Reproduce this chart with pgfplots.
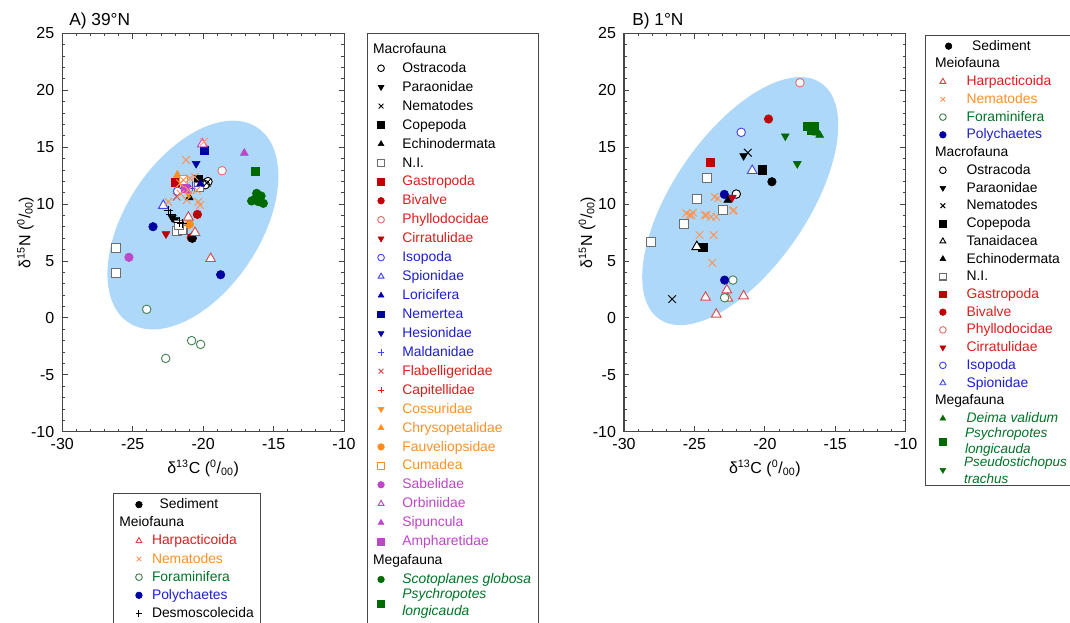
\documentclass[border=0pt]{standalone}
\usepackage{pgfplots}
\pgfplotsset{compat=1.18}
\usepackage{fontspec}
\setmainfont{Liberation Sans}
\definecolor{ellA}{RGB}{173,216,250}
\definecolor{axgray}{RGB}{70,70,70}
\definecolor{mred}{RGB}{192,0,0}
\definecolor{tred}{RGB}{220,30,30}
\definecolor{hred}{RGB}{215,75,75}
\definecolor{pred}{RGB}{230,110,110}
\definecolor{morange}{RGB}{255,140,30}
\definecolor{torange}{RGB}{255,145,40}
\definecolor{xorange}{RGB}{250,150,90}
\definecolor{mgreen}{RGB}{0,105,0}
\definecolor{fgreen}{RGB}{70,130,85}
\definecolor{tgreen}{RGB}{0,115,40}
\definecolor{navy}{RGB}{0,0,160}
\definecolor{tblue}{RGB}{30,30,210}
\definecolor{lblue}{RGB}{70,70,230}
\definecolor{magen}{RGB}{190,70,200}
\definecolor{nigray}{RGB}{110,110,110}
\tikzset{twoline/.style={text height={}, text depth={}, align=left, text=tgreen}}
\pgfplotsset{
  fc/.style={only marks, mark=*, mark size=3.2pt, color=#1, mark options={solid}},
  oc/.style={only marks, mark=*, mark size=3.2pt, color=#1, mark options={solid, fill=white, line width=0.7pt}},
  fs/.style={only marks, mark=square*, mark size=3.1pt, color=#1, mark options={solid}},
  os/.style={only marks, mark=square*, mark size=3.3pt, color=#1, mark options={solid, fill=white, line width=0.8pt}},
  ft/.style={only marks, mark=triangle*, mark size=3.4pt, color=#1, mark options={solid}},
  ot/.style={only marks, mark=triangle*, mark size=4.2pt, color=#1, mark options={solid, fill=white, line width=0.7pt}},
  fd/.style={only marks, mark=triangle*, mark size=3.4pt, color=#1, mark options={solid, rotate=180}},
  xm/.style={only marks, mark=x, mark size=4pt, color=#1, mark options={solid, line width=0.7pt}},
  pm/.style={only marks, mark=+, mark size=3.6pt, color=#1, mark options={solid, line width=0.7pt}},
  panel/.style={
    width=211.3pt, height=298.8pt, scale only axis,
    xmin=-30, xmax=-10, ymin=-10, ymax=25,
    xtick={-30,-25,...,-10}, ytick={-10,-5,...,25},
    minor tick num=4,
    tick align=inside,
    major tick length=4pt, minor tick length=2pt,
    axis line style={axgray, line width=0.8pt},
    tick style={axgray, line width=0.6pt},
    tick label style={font=\fontsize{12}{14}\selectfont},
    /pgf/number format/assume math mode=true,
    xticklabel style={yshift=-1.5pt},
    yticklabel style={xshift=-2.5pt},
    xlabel={δ\textsuperscript{13}C (\textsuperscript{0}/\textsubscript{00})},
    ylabel={δ\textsuperscript{15}N (\textsuperscript{0}/\textsubscript{00})},
    label style={font=\fontsize{12}{14}\selectfont},
    xlabel style={at={([yshift=-31pt]axis description cs:0.5,0)}, anchor=base},
    ylabel style={at={([xshift=-24pt]axis description cs:0,0.5)}, anchor=base},
    legend cell align=left,
    legend image post style={mark size=2.5pt},
  },
}
\begin{document}
\begin{tikzpicture}
\useasboundingbox (0pt,0pt) rectangle (802.5pt,-467.25pt);
\node[anchor=base west, inner sep=0pt, font=\fontsize{13}{15}\selectfont] at (51.75pt,-19.5pt) {A) 39°N};
\node[anchor=base west, inner sep=0pt, font=\fontsize{13}{15}\selectfont] at (474pt,-19.5pt) {B) 1°N};

% ---------------- Panel A: macro + mega ----------------
\begin{axis}[panel, at={(46.73pt,-24.98pt)}, anchor=north west,
  legend style={at={(1.0806,1)}, anchor=north west, draw=axgray, fill=white,
    inner xsep=2pt, inner ysep=4.7pt, row sep=0pt, column sep=13.5pt,
    nodes={inner sep=0pt, text height=10.2pt, text depth=4pt, font=\fontsize{10.4}{12.75}\selectfont}}]
\fill[ellA, rotate around={56.6:(axis cs:-20.73,8.155)}] (axis cs:-20.73,8.155) ellipse [x radius=87.6pt, y radius=50.6pt];
\addlegendimage{empty legend}\addlegendentry{\hspace*{-22pt}Macrofauna}
\addplot[oc=black] coordinates {(-19.66,11.97) (-19.85,11.7)}; \addlegendentry{Ostracoda}
\addplot[fd=black] coordinates {(-22.2,8.8) (-22.0,8.6)}; \addlegendentry{Paraonidae}
\addplot[xm=black] coordinates {(-19.75,11.85)}; \addlegendentry{Nematodes}
\addplot[fs=black] coordinates {(-20.34,12.2)}; \addlegendentry{Copepoda}
\addplot[ft=black] coordinates {(-20.98,10.56) (-20.8,7.15)}; \addlegendentry{Echinodermata}
\addplot[os=nigray] coordinates {(-26.21,6.11) (-26.21,3.97) (-21.88,7.66) (-21.46,7.72) (-20.3,11.5) (-21.7,8.15)}; \addlegendentry{N.I.}
\addplot[fs=mred] coordinates {(-22.0,11.91)}; \addlegendentry[text=tred]{Gastropoda}
\addplot[fc=mred] coordinates {(-20.41,9.09) (-20.85,7.05)}; \addlegendentry[text=tred]{Bivalve}
\addplot[oc=pred] coordinates {(-18.66,12.93)}; \addlegendentry[text=tred]{Phyllodocidae}
\addplot[fd=mred] coordinates {(-22.64,7.37)}; \addlegendentry[text=tred]{Cirratulidae}
\addplot[oc=lblue] coordinates {(-21.81,11.12)}; \addlegendentry[text=tblue]{Isopoda}
\addplot[ot=lblue] coordinates {(-22.83,9.86)}; \addlegendentry[text=tblue]{Spionidae}
\addplot[ft=navy] coordinates {(-20.2,11.76)}; \addlegendentry[text=tblue]{Loricifera}
\addplot[fs=navy] coordinates {(-19.92,14.72)}; \addlegendentry[text=tblue]{Nemertea}
\addplot[fd=navy] coordinates {(-20.5,13.55)}; \addlegendentry[text=tblue]{Hesionidae}
\addplot[pm=lblue] coordinates {(-20.74,11.58) (-20.95,11.35)}; \addlegendentry[text=tblue]{Maldanidae}
\addplot[xm=hred] coordinates {(-21.88,10.65)}; \addlegendentry[text=tred]{Flabelligeridae}
\addplot[pm=tred] coordinates {(-21.2,11.6)}; \addlegendentry[text=tred]{Capitellidae}
\addplot[fd=morange] coordinates {(-21.05,10.94)}; \addlegendentry[text=torange]{Cossuridae}
\addplot[ft=morange] coordinates {(-21.83,12.55)}; \addlegendentry[text=torange]{Chrysopetalidae}
\addplot[fc=morange] coordinates {(-20.98,8.22)}; \addlegendentry[text=torange]{Fauveliopsidae}
\addplot[os=morange] coordinates {(-21.4,12.1)}; \addlegendentry[text=torange]{Cumadea}
\addplot[fc=magen] coordinates {(-25.27,5.32)}; \addlegendentry[text=magen]{Sabelidae}
\addplot[ot=magen] coordinates {(-20.06,15.27)}; \addlegendentry[text=magen]{Orbiniidae}
\addplot[ft=magen] coordinates {(-17.08,14.48)}; \addlegendentry[text=magen]{Sipuncula}
\addplot[fs=magen] coordinates {(-21.27,11.38)}; \addlegendentry[text=magen]{Ampharetidae}
\addlegendimage{empty legend}\addlegendentry{\hspace*{-22pt}Megafauna}
\addplot[fc=mgreen] coordinates {(-16.56,10.27) (-16.2,10.94) (-15.89,10.71) (-16.08,10.21) (-15.73,10.06) (-16.32,10.44) (-16.0,10.5)}; \addlegendentry[text=tgreen]{\textit{Scotoplanes globosa}\hspace*{3pt}}
\addplot[fs=mgreen] coordinates {(-16.30,12.87)}; \addlegendentry[twoline, font=\fontsize{10.4}{12.75}\selectfont\itshape]{Psychropotes\\longicauda}
\end{axis}

% ---------------- Panel A: meiofauna overlay ----------------
\begin{axis}[panel, hide axis, at={(46.73pt,-24.98pt)}, anchor=north west,
  legend style={at={(0.181,-0.1546)}, anchor=north west, draw=axgray, fill=white,
    inner xsep=10.5pt, inner ysep=1.5pt, row sep=0pt, column sep=7.3pt,
    nodes={inner sep=0pt, text height=9.8pt, text depth=3.8pt, font=\fontsize{10.4}{12.75}\selectfont}}]
\addplot[fc=black] coordinates {(-20.77,6.99)}; \addlegendentry{\hspace*{5.7pt}Sediment}
\addlegendimage{empty legend}\addlegendentry{\hspace*{-24.5pt}Meiofauna}
\addplot[ot=hred] coordinates {(-19.47,5.2) (-20.58,7.48) (-21.05,8.83)}; \addlegendentry[text=tred]{Harpacticoida}
\addplot[xm=xorange] coordinates {(-21.21,13.87) (-19.94,15.47) (-21.41,12.11) (-20.93,12.26) (-21.64,11.82) (-21.05,11.23) (-20.45,11.23) (-21.16,10.35) (-20.34,10.2) (-20.22,9.91) (-22.47,10.2) (-21.6,10.9) (-20.6,12.4)}; \addlegendentry[text=torange]{Nematodes}
\addplot[oc=fgreen] coordinates {(-24.01,0.75) (-20.82,-2.0) (-20.18,-2.33) (-22.66,-3.56)}; \addlegendentry[text=tgreen]{Foraminifera}
\addplot[fc=navy] coordinates {(-23.56,8.01) (-18.76,3.79)}; \addlegendentry[text=tblue]{Polychaetes}
\addplot[pm=black] coordinates {(-22.45,9.4) (-22.3,9.1) (-21.7,8.4) (-21.5,8.3)}; \addlegendentry{Desmoscolecida\hspace*{-5.5pt}}
\end{axis}

% ---------------- Panel B ----------------
\begin{axis}[panel, at={(468pt,-24.98pt)}, anchor=north west,
  legend style={at={(1.0668,0.9957)}, anchor=north west, draw=axgray, fill=white,
    inner xsep=5pt, inner ysep=1.5pt, row sep=0pt, column sep=11pt,
    nodes={inner sep=0pt, text height=9.7pt, text depth=3.6pt, font=\fontsize{10.4}{12.45}\selectfont}}]
\fill[ellA, rotate around={55.6:(axis cs:-21.75,10.26)}] (axis cs:-21.75,10.26) ellipse [x radius=107.3pt, y radius=50.4pt];
\addplot[fc=black, forget plot] coordinates {(-19.50,11.96)};
\addlegendimage{fc=black, mark options={xshift=4.3pt}}\addlegendentry{\hspace*{4.2pt}Sediment}
\addlegendimage{empty legend}\addlegendentry{\hspace*{-23.7pt}Meiofauna}
\addplot[ot=hred] coordinates {(-24.21,1.8) (-22.7,2.44) (-22.63,1.71) (-21.51,1.92) (-23.45,0.31)}; \addlegendentry[text=tred]{Harpacticoida}
\addplot[xm=xorange] coordinates {(-23.57,10.64) (-23.34,10.5) (-22.2,9.47) (-25.58,9.18) (-25.35,9.03) (-25.11,9.24) (-24.28,9.03) (-23.81,8.88) (-23.45,8.88) (-24.16,9.03) (-22.27,9.41) (-24.64,7.28) (-23.64,7.28) (-23.74,4.84) (-25.2,9.0)}; \addlegendentry[text=torange]{Nematodes}
\addplot[oc=fgreen] coordinates {(-22.27,3.32) (-22.86,1.77)}; \addlegendentry[text=tgreen]{Foraminifera}
\addplot[fc=navy] coordinates {(-22.86,3.32) (-22.88,10.85)}; \addlegendentry[text=tblue]{Polychaetes}
\addlegendimage{empty legend}\addlegendentry{\hspace*{-23.7pt}Macrofauna}
\addplot[oc=black] coordinates {(-22.03,10.88)}; \addlegendentry{Ostracoda}
\addplot[fd=black] coordinates {(-21.51,14.24)}; \addlegendentry{Paraonidae}
\addplot[xm=black] coordinates {(-21.21,14.51) (-26.58,1.65)}; \addlegendentry{Nematodes}
\addplot[fs=black] coordinates {(-20.18,13.01) (-24.40,6.2)}; \addlegendentry{Copepoda}
\addplot[ot=black] coordinates {(-24.83,6.25)}; \addlegendentry{Tanaidacea}
\addplot[ft=black] coordinates {(-22.63,10.35)}; \addlegendentry{Echinodermata}
\addplot[os=nigray] coordinates {(-24.09,12.26) (-24.80,10.44) (-22.98,9.47) (-25.75,8.24) (-28.07,6.69)}; \addlegendentry{N.I.}
\addplot[fs=mred] coordinates {(-23.88,13.66)}; \addlegendentry[text=tred]{Gastropoda}
\addplot[fc=mred] coordinates {(-19.74,17.47)}; \addlegendentry[text=tred]{Bivalve}
\addplot[oc=pred] coordinates {(-17.51,20.66)}; \addlegendentry[text=tred]{Phyllodocidae}
\addplot[fd=mred] coordinates {(-22.31,10.59)}; \addlegendentry[text=tred]{Cirratulidae}
\addplot[oc=lblue] coordinates {(-21.68,16.30)}; \addlegendentry[text=tblue]{Isopoda}
\addplot[ot=lblue] coordinates {(-20.9,12.93)}; \addlegendentry[text=tblue]{Spionidae}
\addlegendimage{empty legend}\addlegendentry{\hspace*{-23.7pt}Megafauna}
\addplot[ft=mgreen] coordinates {(-16.11,16.06) (-16.35,16.25)}; \addlegendentry[text=tgreen]{\textit{Deima validum}}
\addplot[fs=mgreen] coordinates {(-16.95,16.85) (-16.5,16.8) (-16.7,16.5)}; \addlegendentry[twoline, font=\fontsize{10.2}{12.45}\selectfont\itshape]{\hspace*{-1.2pt}Psychropotes\\\hspace*{-1.2pt}longicauda}
\addplot[fd=mgreen] coordinates {(-18.55,15.97) (-17.70,13.54)}; \addlegendentry[twoline, font=\fontsize{10.1}{12.45}\selectfont\itshape]{\hspace*{-1.8pt}Pseudostichopus\\\hspace*{-1.8pt}trachus}
\end{axis}
\end{tikzpicture}
\end{document}
